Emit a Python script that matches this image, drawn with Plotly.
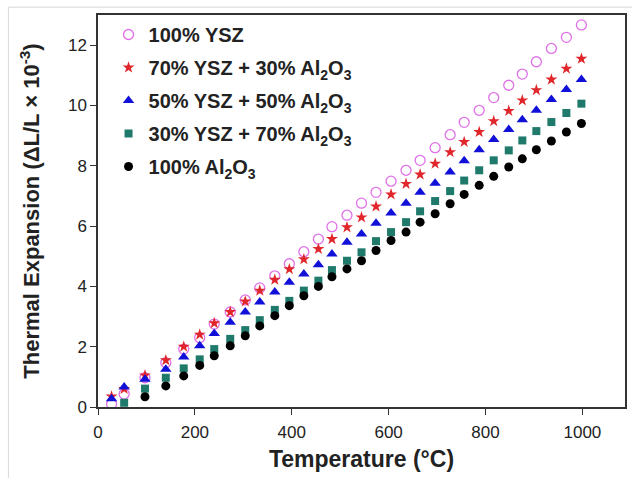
import plotly.graph_objects as go

temperature = [28, 54, 97, 140, 177, 210, 240, 273, 304, 334, 365, 395, 425, 455, 483, 514,
               544, 574, 605, 636, 665, 696, 727, 756, 787, 817, 848, 876, 905, 936, 967, 998]

ysz100 = [0.10, 0.43, 0.97, 1.47, 1.92, 2.30, 2.75, 3.15, 3.55, 3.95, 4.35, 4.75, 5.15, 5.57, 5.98, 6.36,
          6.76, 7.12, 7.49, 7.85, 8.18, 8.60, 9.03, 9.44, 9.84, 10.26, 10.67, 11.04, 11.45, 11.89, 12.26, 12.67]
ysz70 = [0.35, 0.60, 1.05, 1.55, 2.00, 2.40, 2.78, 3.15, 3.50, 3.86, 4.22, 4.57, 4.90, 5.24, 5.57, 5.96,
         6.29, 6.65, 7.05, 7.40, 7.71, 8.07, 8.45, 8.79, 9.12, 9.48, 9.82, 10.17, 10.51, 10.86, 11.22, 11.55]
ysz50 = [0.27, 0.66, 0.92, 1.25, 1.66, 2.03, 2.44, 2.81, 3.15, 3.48, 3.81, 4.14, 4.41, 4.72, 5.07, 5.46,
         5.74, 6.09, 6.43, 6.76, 7.12, 7.42, 7.79, 8.17, 8.53, 8.87, 9.20, 9.53, 9.84, 10.20, 10.53, 10.86]
ysz30 = [None, 0.14, 0.61, 0.97, 1.28, 1.58, 1.92, 2.26, 2.55, 2.88, 3.22, 3.52, 3.86, 4.19, 4.54, 4.85,
         5.13, 5.50, 5.80, 6.13, 6.49, 6.83, 7.16, 7.51, 7.85, 8.18, 8.51, 8.84, 9.15, 9.45, 9.75, 10.06]
al100 = [None, None, 0.34, 0.70, 1.03, 1.38, 1.70, 2.03, 2.36, 2.69, 3.03, 3.36, 3.69, 4.00, 4.32, 4.58,
         4.85, 5.19, 5.52, 5.80, 6.13, 6.41, 6.74, 7.05, 7.35, 7.65, 7.96, 8.23, 8.53, 8.82, 9.12, 9.40]

names = ["100% YSZ",
         "70% YSZ + 30% Al<sub>2</sub>O<sub>3</sub>",
         "50% YSZ + 50% Al<sub>2</sub>O<sub>3</sub>",
         "30% YSZ + 70% Al<sub>2</sub>O<sub>3</sub>",
         "100% Al<sub>2</sub>O<sub>3</sub>"]
x_ticks = [0, 200, 400, 600, 800, 1000]
y_ticks = [0, 2, 4, 6, 8, 10, 12]

series = [ysz100, ysz70, ysz50, ysz30, al100]
symbols = ["circle-open", "star", "triangle-up", "square", "circle"]
colors = ["#e070e8", "#e0262a", "#1010d8", "#1f7a6c", "#000000"]
sizes = [10, 9, 10, 8, 9]

fig = go.Figure()
for i, (name, ys, sym, col, sz) in enumerate(zip(names, series, symbols, colors, sizes)):
    marker = dict(symbol=sym, size=sz, color=col)
    if sym == "circle-open":
        marker["line"] = dict(color=col, width=1.3)
    else:
        marker["line"] = dict(width=0)
    fig.add_trace(go.Scatter(x=temperature, y=ys, mode="markers", name="<b>" + name + "</b>",
                             marker=marker, legendgroup="g%d" % i))

font = "Liberation Sans, Arial, sans-serif"
axis_common = dict(showline=True, linecolor="#333333", linewidth=1.5, mirror=True,
                   ticks="outside", ticklen=6, tickwidth=1.2, tickcolor="#333333",
                   showgrid=False, zeroline=False,
                   tickprefix="<b>", ticksuffix="</b>",
                   tickfont=dict(family=font, size=17, color="#222222"))

fig.update_layout(
    width=632, height=478,
    margin=dict(l=98, r=5, t=15, b=71),
    paper_bgcolor="white", plot_bgcolor="white",
    font=dict(family=font, color="#222222"),
    xaxis=dict(range=[0, 1088], tickvals=x_ticks, ticklabelstandoff=3,
               title=dict(text="<b>Temperature (°C)</b>", font=dict(size=23), standoff=10),
               **axis_common),
    yaxis=dict(range=[0, 13], tickvals=y_ticks,
               title=dict(text="<b>Thermal Expansion (ΔL/L × 10<sup>-3</sup>)</b>", font=dict(size=22), standoff=22),
               **axis_common),
    legend=dict(x=0.02, y=1.0, xanchor="left", yanchor="top",
                bgcolor="rgba(0,0,0,0)", borderwidth=0,
                font=dict(family=font, size=20, color="#222222"),
                tracegroupgap=4, itemsizing="trace"),
    showlegend=True,
)

fig.add_shape(type="rect", xref="paper", yref="paper", x0=-0.17, x1=1.03, y0=-0.25, y1=1.02,
              line=dict(color="#d8d8d8", width=1), layer="below")

fig.write_html("out.html")
